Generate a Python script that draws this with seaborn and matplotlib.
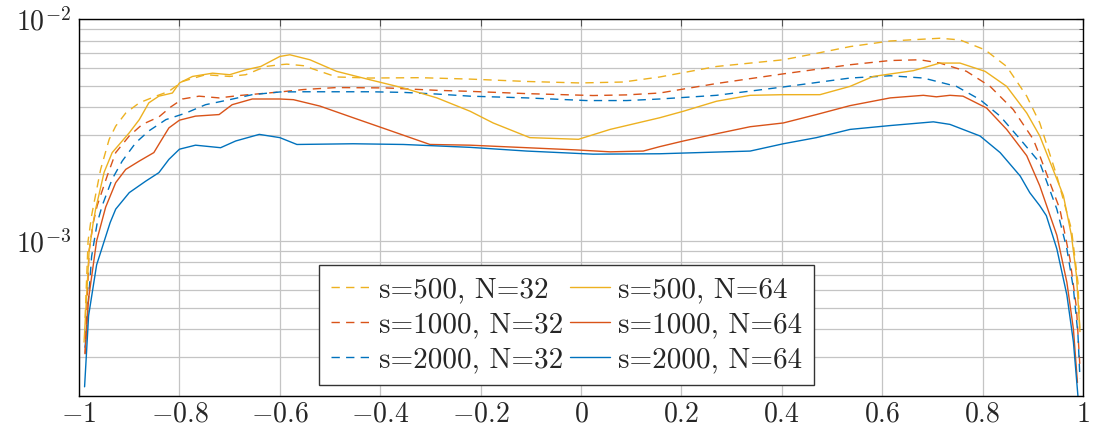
import matplotlib
matplotlib.use("Agg")
import matplotlib.pyplot as plt
import seaborn as sns
import numpy as np
from matplotlib.ticker import FixedLocator, FixedFormatter, LogLocator, NullFormatter
from matplotlib.lines import Line2D

# Error profiles (values in units of 1e-3) over x in [-1, 1]
x_s500_n32 = [-0.988, -0.982, -0.975, -0.970, -0.957, -0.940, -0.927, -0.907, -0.880, -0.847,
              -0.821, -0.794, -0.748, -0.700, -0.668, -0.628, -0.600, -0.586, -0.553, -0.520,
              -0.487, -0.420, -0.321, -0.221, -0.108, -0.002, 0.084, 0.157, 0.270, 0.403,
              0.469, 0.536, 0.616, 0.715, 0.755, 0.805, 0.848, 0.888, 0.914, 0.948, 0.977,
              0.990, 0.994]
y_s500_n32 = [0.45, 1.0, 1.3, 1.49, 2.10, 2.87, 3.29, 3.77, 4.19, 4.49,
              4.72, 5.23, 5.61, 5.51, 5.61, 6.11, 6.22, 6.26, 6.16, 5.81,
              5.48, 5.42, 5.44, 5.36, 5.23, 5.15, 5.20, 5.48, 6.11, 6.55,
              7.0, 7.51, 7.96, 8.19, 8.05, 7.26, 6.11, 4.49, 3.40, 1.96, 1.13,
              0.65, 0.38]

x_s500_n64 = [-0.990, -0.980, -0.972, -0.967, -0.950, -0.934, -0.900, -0.880, -0.861, -0.841,
              -0.814, -0.800, -0.774, -0.734, -0.700, -0.668, -0.638, -0.600, -0.580, -0.540,
              -0.487, -0.420, -0.354, -0.287, -0.221, -0.175, -0.102, -0.005, 0.058, 0.157,
              0.204, 0.270, 0.337, 0.403, 0.476, 0.536, 0.582, 0.662, 0.715, 0.755, 0.805,
              0.848, 0.888, 0.914, 0.961, 0.977, 0.987, 0.994]
y_s500_n64 = [0.35, 0.9, 1.2, 1.39, 2.04, 2.50, 3.07, 3.52, 4.19, 4.49,
              4.64, 5.15, 5.51, 5.70, 5.61, 5.90, 6.11, 6.78, 6.90, 6.55,
              5.81, 5.32, 4.89, 4.41, 3.84, 3.40, 2.92, 2.87, 3.18, 3.59,
              3.84, 4.26, 4.53, 4.56, 4.56, 4.97, 5.51, 5.85, 6.33, 6.33, 5.81,
              4.97, 3.77, 2.97, 1.60, 1.06, 0.70, 0.39]

x_s1000_n32 = [-0.988, -0.980, -0.972, -0.964, -0.944, -0.927, -0.900, -0.874, -0.841, -0.817,
               -0.794, -0.761, -0.721, -0.681, -0.600, -0.553, -0.487, -0.387, -0.287, -0.221,
               -0.108, 0.024, 0.091, 0.157, 0.270, 0.403, 0.536, 0.616, 0.675, 0.715,
               0.768, 0.815, 0.861, 0.901, 0.914, 0.954, 0.974, 0.987, 0.994]
y_s1000_n32 = [0.31, 0.9, 1.2, 1.44, 1.96, 2.50, 2.97, 3.35, 3.62, 4.02,
               4.36, 4.49, 4.41, 4.52, 4.69, 4.81, 4.91, 4.89, 4.77, 4.72,
               4.61, 4.52, 4.55, 4.64, 5.12, 5.66, 6.22, 6.50, 6.55, 6.33,
               5.81, 4.97, 3.91, 2.87, 2.42, 1.39, 0.83, 0.50, 0.27]

x_s1000_n64 = [-0.988, -0.981, -0.965, -0.947, -0.927, -0.907, -0.880, -0.851, -0.837, -0.821,
               -0.800, -0.768, -0.721, -0.695, -0.655, -0.600, -0.573, -0.520, -0.454, -0.387,
               -0.301, -0.221, -0.108, -0.009, 0.058, 0.124, 0.157, 0.204, 0.270, 0.337,
               0.403, 0.469, 0.536, 0.616, 0.682, 0.708, 0.735, 0.761, 0.808, 0.848,
               0.888, 0.914, 0.948, 0.968, 0.981, 0.989]
y_s1000_n64 = [0.31, 0.55, 1.0, 1.42, 1.83, 2.10, 2.29, 2.50, 2.82, 3.23,
               3.50, 3.65, 3.71, 4.11, 4.36, 4.36, 4.33, 4.05, 3.59, 3.18,
               2.72, 2.70, 2.63, 2.57, 2.52, 2.54, 2.66, 2.82, 3.04, 3.27,
               3.40, 3.71, 4.07, 4.41, 4.53, 4.46, 4.53, 4.49, 3.97, 3.18,
               2.42, 1.77, 1.06, 0.65, 0.40, 0.23]

x_s2000_n32 = [-0.988, -0.975, -0.964, -0.954, -0.934, -0.914, -0.887, -0.861, -0.827, -0.787,
               -0.748, -0.700, -0.655, -0.600, -0.553, -0.420, -0.354, -0.287, -0.221, -0.108,
               0.011, 0.091, 0.157, 0.270, 0.403, 0.536, 0.616, 0.682, 0.748, 0.795,
               0.835, 0.875, 0.914, 0.948, 0.968, 0.981, 0.990, 0.994]
y_s2000_n32 = [0.33, 0.85, 1.2, 1.44, 1.90, 2.29, 2.77, 3.13, 3.52, 3.77,
               4.11, 4.33, 4.56, 4.69, 4.70, 4.70, 4.67, 4.59, 4.49, 4.41,
               4.29, 4.29, 4.36, 4.53, 4.94, 5.42, 5.55, 5.42, 4.97, 4.33,
               3.65, 2.87, 2.25, 1.39, 0.92, 0.61, 0.38, 0.24]

x_s2000_n64 = [-0.989, -0.981, -0.965, -0.938, -0.927, -0.900, -0.867, -0.841, -0.821, -0.800,
               -0.768, -0.718, -0.688, -0.641, -0.600, -0.566, -0.454, -0.354, -0.221, -0.108,
               0.024, 0.157, 0.337, 0.403, 0.469, 0.536, 0.616, 0.702, 0.735, 0.795,
               0.835, 0.875, 0.894, 0.914, 0.927, 0.948, 0.968, 0.981, 0.990]
y_s2000_n64 = [0.22, 0.46, 0.78, 1.21, 1.39, 1.65, 1.86, 2.03, 2.33, 2.59,
               2.70, 2.63, 2.82, 3.02, 2.92, 2.72, 2.74, 2.72, 2.64, 2.54,
               2.46, 2.47, 2.54, 2.74, 2.92, 3.18, 3.31, 3.44, 3.35, 2.97,
               2.50, 1.96, 1.65, 1.44, 1.30, 0.92, 0.57, 0.35, 0.20]

x_ticks = [-1, -0.8, -0.6, -0.4, -0.2, 0, 0.2, 0.4, 0.6, 0.8, 1]
x_tick_labels = ["$-1$", "$-0.8$", "$-0.6$", "$-0.4$", "$-0.2$", "$0$",
                 "$0.2$", "$0.4$", "$0.6$", "$0.8$", "$1$"]
y_ticks = [1e-3, 1e-2]
y_tick_labels = ["$10^{-3}$", "$10^{-2}$"]

YELLOW = "#EDB120"
ORANGE = "#D95319"
BLUE = "#0072BD"

series = [
    ("s=500, N=32", x_s500_n32, y_s500_n32, YELLOW, "dashed"),
    ("s=1000, N=32", x_s1000_n32, y_s1000_n32, ORANGE, "dashed"),
    ("s=2000, N=32", x_s2000_n32, y_s2000_n32, BLUE, "dashed"),
    ("s=500, N=64", x_s500_n64, y_s500_n64, YELLOW, "solid"),
    ("s=1000, N=64", x_s1000_n64, y_s1000_n64, ORANGE, "solid"),
    ("s=2000, N=64", x_s2000_n64, y_s2000_n64, BLUE, "solid"),
]

sns.set_theme(style="white")
plt.rcParams["font.family"] = ["cmr10", "DejaVu Serif"]
plt.rcParams["mathtext.fontset"] = "cm"
plt.rcParams["axes.formatter.use_mathtext"] = True

fig, ax = plt.subplots(figsize=(10.98, 4.30), dpi=100)
fig.subplots_adjust(left=0.072, right=0.9863, top=0.9558, bottom=0.0791)

DASH = (6.0, 4.5)
handles = []
for label, xs, ys, color, style in series:
    yv = np.asarray(ys) * 1e-3
    kw = dict(dashes=DASH) if style == "dashed" else {}
    sns.lineplot(x=xs, y=yv, ax=ax, color=color, linewidth=1.0,
                 estimator=None, sort=False, legend=False, **kw)
    handles.append(Line2D([0], [0], color=color, linewidth=1.0,
                          linestyle=(0, DASH) if style == "dashed" else "-",
                          label=label))

ax.set_yscale("log")
ax.set_xlim(-1, 1)
ax.set_ylim(2e-4, 1e-2)

ax.xaxis.set_major_locator(FixedLocator(x_ticks))
ax.xaxis.set_major_formatter(FixedFormatter(x_tick_labels))
ax.yaxis.set_major_locator(FixedLocator(y_ticks))
ax.yaxis.set_major_formatter(FixedFormatter(y_tick_labels))
ax.yaxis.set_minor_locator(LogLocator(base=10, subs=np.arange(2, 10)))
ax.yaxis.set_minor_formatter(NullFormatter())

ax.grid(True, which="major", axis="both", color="#c4c4c4", linewidth=0.9)
ax.grid(True, which="minor", axis="y", color="#c4c4c4", linewidth=0.9)
ax.set_axisbelow(True)

ax.tick_params(axis="both", which="both", direction="in", top=True, right=True,
               labelsize=20, color="#555555")
ax.tick_params(which="major", length=5, width=0.8)
ax.tick_params(which="minor", length=3, width=0.7)
ax.tick_params(axis="x", pad=4)
ax.tick_params(axis="y", pad=6)
for sp in ax.spines.values():
    sp.set_color("black")
    sp.set_linewidth(1.0)

ax.set_xlabel("")
ax.set_ylabel("")

leg = ax.legend(handles=handles, ncol=2, loc="lower left",
                bbox_to_anchor=(0.239, 0.029), fontsize=21,
                frameon=True, fancybox=False, shadow=False,
                handlelength=1.35, handletextpad=0.3, columnspacing=0.25,
                labelspacing=0.3, borderpad=0.4, borderaxespad=0.0)
leg.get_frame().set_edgecolor("#333333")
leg.get_frame().set_linewidth(1.0)
leg.get_frame().set_alpha(1.0)

fig.savefig("out.png", dpi=100)
